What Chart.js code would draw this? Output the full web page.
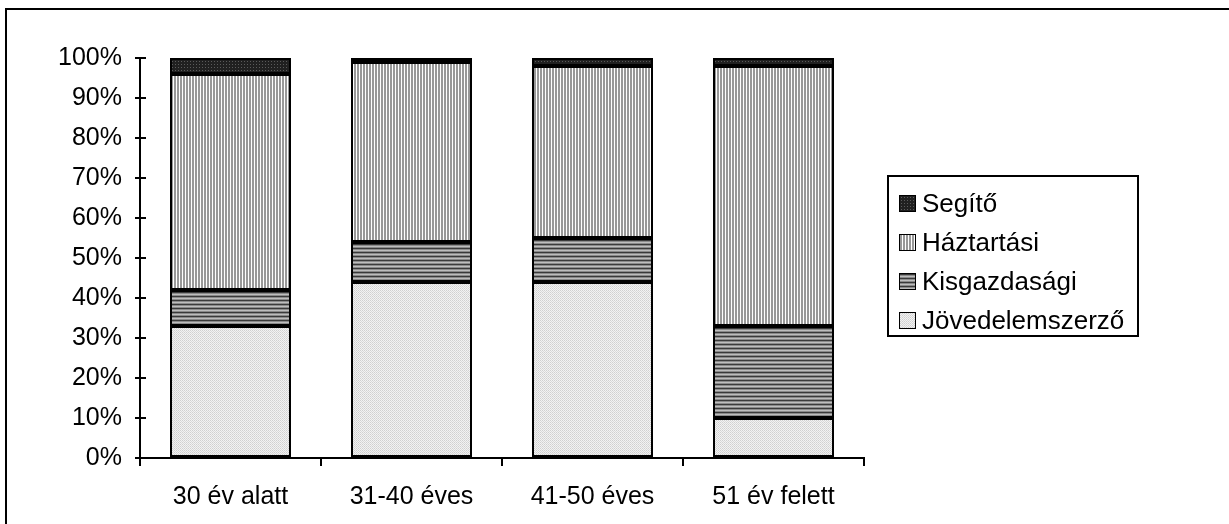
<!DOCTYPE html>
<html>
<head>
<meta charset="utf-8">
<script src="https://cdn.jsdelivr.net/npm/chart.js@4/dist/chart.umd.min.js"></script>
<style>
  html, body { margin: 0; padding: 0; background: #fff; overflow: hidden; }
  body { width: 1229px; height: 524px; position: relative; font-family: "Liberation Sans", Arial, sans-serif; }
  #frame { position: absolute; left: 5px; top: 8px; width: 1300px; height: 600px; border-left: 2px solid #000; border-top: 2px solid #000; }
  #chartWrap { position: absolute; left: 0; top: 0; width: 1229px; height: 524px; }
  #legend { position: absolute; left: 887px; top: 175px; width: 252px; height: 162px; border: 2px solid #000; box-sizing: border-box; background: #fff; }
  .item { position: absolute; left: 10px; height: 30px; display: flex; align-items: center; font-size: 26px; color: #000; }
  .item canvas { width: 17px; height: 17px; border: 1px solid #000; margin-right: 6px; box-sizing: border-box; }
</style>
</head>
<body>
<div id="frame"></div>
<div id="chartWrap"><canvas id="stackChart" width="1229" height="524"></canvas></div>
<div id="legend"></div>
<script>
document.addEventListener("DOMContentLoaded", function(){

    // categories
    let labelsAge = ["30 év alatt", "31-40 éves", "41-50 éves", "51 év felett"];

    // series (percent)
    let dataJovedelem = [33, 44, 44, 10];
    let dataKisgazd = [9, 10, 11, 23];
    let dataHaztartasi = [54, 45, 43, 65];
    let dataSegito = [4, 1, 2, 2];

    let seriesNames = ["Jövedelemszerző", "Kisgazdasági", "Háztartási", "Segítő"];

    // build a small repeating pattern from rows of colours
    function makePattern(rows) {
      const c = document.createElement("canvas");
      c.height = rows.length;
      c.width = rows[0].length;
      const g = c.getContext("2d");
      rows.forEach((row, y) => {
        row.forEach((col, x) => {
          g.fillStyle = col;
          g.fillRect(x, y, 1, 1);
        });
      });
      return g.createPattern(c, "repeat");
    }

    const pJov = makePattern([
      ["#d0d0d0", "#f2f2f2"],
      ["#f2f2f2", "#dadada"],
    ]);
    const pKis = makePattern([
      ["#3a3a3a"],
      ["#8a8a8a"],
      ["#bdbdbd"],
      ["#8a8a8a"],
    ]);
    const pHaz = makePattern([
      ["#999999", "#999999", "#ffffff"],
    ]);
    const pSeg = makePattern([
      ["#202020", "#202020", "#202020"],
      ["#202020", "#5a5a5a", "#202020"],
      ["#202020", "#202020", "#202020"],
    ]);

    const fills = [pJov, pKis, pHaz, pSeg];
    const values = [dataJovedelem, dataKisgazd, dataHaztartasi, dataSegito];

    // inner half of the y ticks (they cross the axis)
    const crossTicks = {
      id: "crossTicks",
      afterDraw(chart) {
        const ctx = chart.ctx;
        const y = chart.scales.y;
        ctx.save();
        ctx.strokeStyle = "#000";
        ctx.lineWidth = 2;
        y.ticks.forEach((t) => {
          const py = Math.round(y.getPixelForValue(t.value));
          ctx.beginPath();
          ctx.moveTo(y.right, py);
          ctx.lineTo(y.right + 6, py);
          ctx.stroke();
        });
        ctx.restore();
      },
    };

    const ctxStack = document.getElementById("stackChart").getContext("2d");

    const stackChart = new Chart(ctxStack, {
      type: "bar",
      data: {
        labels: labelsAge,
        datasets: seriesNames.map((name, i) => ({
          label: name,
          data: values[i],
          backgroundColor: fills[i],
          borderColor: "#000",
          borderWidth: 2,
          borderSkipped: false,
          inflateAmount: 0,
          barThickness: 121,
        })),
      },
      options: {
        responsive: false,
        animation: false,
        layout: {
          padding: { left: 0, top: 58, right: 365, bottom: 0 },
        },
        scales: {
          x: {
            stacked: true,
            offset: true,
            grid: {
              offset: true,
              drawOnChartArea: false,
              color: "#000",
              lineWidth: 2,
              tickLength: 8,
            },
            border: { color: "#000", width: 2 },
            ticks: {
              color: "#000",
              padding: 16,
              font: { family: "Liberation Sans", size: 25 },
            },
            afterFit: function (scale) {
              scale.height = 66;
            },
          },
          y: {
            stacked: true,
            min: 0,
            max: 100,
            grid: {
              drawOnChartArea: false,
              color: "#000",
              lineWidth: 2,
              tickLength: 5,
            },
            border: { color: "#000", width: 2 },
            ticks: {
              stepSize: 10,
              color: "#000",
              padding: 13,
              font: { family: "Liberation Sans", size: 25 },
              callback: function (value) {
                return value + "%";
              },
            },
            afterFit: function (scale) {
              scale.width = 140;
            },
          },
        },
        plugins: {
          legend: { display: false },
          tooltip: { enabled: false },
        },
      },
      plugins: [crossTicks],
    });

    // legend, reversed like the original
    const legendEl = document.getElementById("legend");
    const order = [3, 2, 1, 0];
    order.forEach((idx, row) => {
      const item = document.createElement("div");
      item.className = "item";
      item.style.top = (11 + row * 39) + "px";
      const sw = document.createElement("canvas");
      sw.width = 15;
      sw.height = 15;
      const g = sw.getContext("2d");
      g.fillStyle = fills[idx];
      g.fillRect(0, 0, 15, 15);
      item.appendChild(sw);
      const txt = document.createElement("span");
      txt.textContent = seriesNames[idx];
      item.appendChild(txt);
      legendEl.appendChild(item);
    });

});
</script>
</body>
</html>
